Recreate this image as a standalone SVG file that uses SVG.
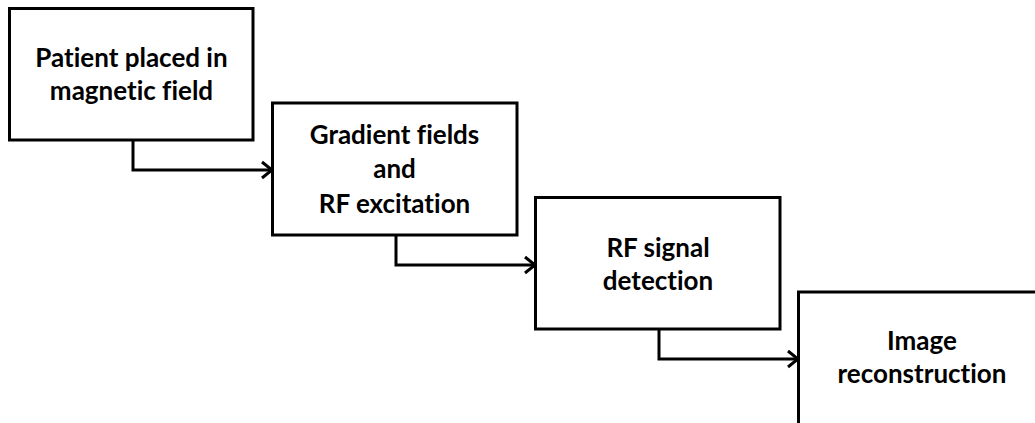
<svg xmlns="http://www.w3.org/2000/svg" width="1035" height="423" viewBox="0 0 1035 423">
<defs>
<style>
.box{fill:#fff;stroke:#000;stroke-width:3}
.lbl{font-family:Lato,"Liberation Sans",sans-serif;font-weight:bold;font-size:26px;fill:#000;text-anchor:middle;font-variant-ligatures:none}
.conn{fill:none;stroke:#000;stroke-width:3}
</style>
<marker id="arr" markerWidth="14" markerHeight="20" refX="12" refY="10" orient="auto" markerUnits="userSpaceOnUse">
<polyline points="2,2 12,10 2,18" fill="none" stroke="#000" stroke-width="3"/>
</marker>
</defs>
<rect width="1035" height="423" fill="#fff"/>
<g id="connectors">
<path class="conn" d="M133,140 V170 H272" marker-end="url(#arr)"/>
<path class="conn" d="M396,235 V265 H535" marker-end="url(#arr)"/>
<path class="conn" d="M659,329 V359 H798" marker-end="url(#arr)"/>
</g>
<g id="n1">
<rect class="box" x="9.5" y="8.5" width="243.5" height="131.5"/>
<text class="lbl" x="131.5" y="67">Patient placed in</text>
<text class="lbl" x="131.5" y="100">magnetic field</text>
</g>
<g id="n2">
<rect class="box" x="272.5" y="103" width="244.5" height="132"/>
<text class="lbl" x="394.5" y="144">Gradient fields</text>
<text class="lbl" x="394.5" y="178">and</text>
<text class="lbl" x="394.5" y="213">RF excitation</text>
</g>
<g id="n3">
<rect class="box" x="535.5" y="197.5" width="244.5" height="131.5"/>
<text class="lbl" x="658" y="257">RF signal</text>
<text class="lbl" x="658" y="290">detection</text>
</g>
<g id="n4">
<rect class="box" x="798.5" y="292" width="250" height="140"/>
<text class="lbl" x="922" y="350">Image</text>
<text class="lbl" x="922" y="383">reconstruction</text>
</g>
</svg>
